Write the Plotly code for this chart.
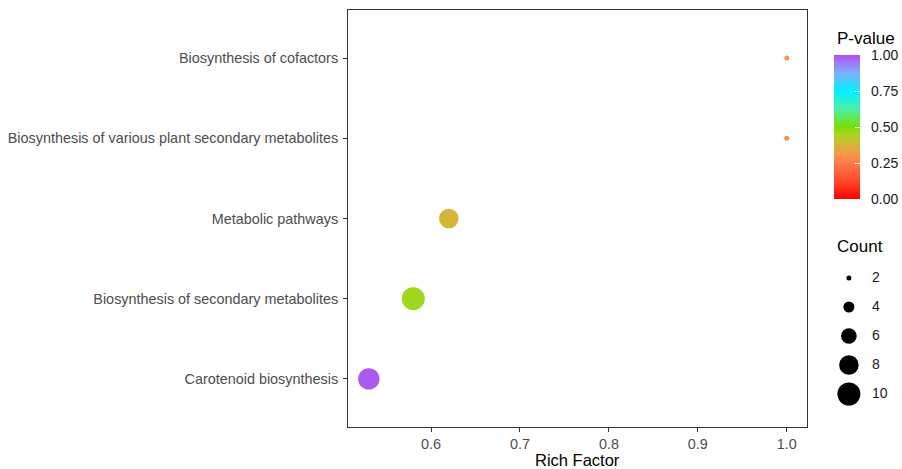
import numpy as np
import plotly.graph_objects as go

# ---- data ----
pathways = [
    "Carotenoid biosynthesis",
    "Biosynthesis of secondary metabolites",
    "Metabolic pathways",
    "Biosynthesis of various plant secondary metabolites",
    "Biosynthesis of cofactors",
]
rich_factor = [0.530, 0.580, 0.620, 1.0, 1.0]
counts = [9, 10, 8, 2, 2]
p_values = [0.99, 0.46, 0.38, 0.30, 0.30]

count_breaks = [2, 4, 6, 8, 10]
count_labels = ["2", "4", "6", "8", "10"]
p_ticks = [0, 0.25, 0.5, 0.75, 1.0]
p_ticklabels = ["0.00", "0.25", "0.50", "0.75", "1.00"]
x_ticks = [0.6, 0.7, 0.8, 0.9, 1.0]

W, H = 902, 469

colorscale = [
    [0.00, "#FF0000"],
    [0.125, "#FF4A2A"],
    [0.25, "#FF7A4C"],
    [0.31, "#F49845"],
    [0.38, "#D4B637"],
    [0.45, "#A9D524"],
    [0.50, "#78E000"],
    [0.625, "#48F0A8"],
    [0.75, "#00F0FF"],
    [0.875, "#80B0FF"],
    [1.00, "#AE52F2"],
]


def size_px(c, lo=2, hi=10):
    s = 1 + 5 * (np.sqrt(c) - np.sqrt(lo)) / (np.sqrt(hi) - np.sqrt(lo))
    return s * 3.6 + 1.4


def px_x(p):
    return p / W


def px_y(p):
    return 1 - p / H


FONT = "Liberation Sans, Arial, sans-serif"
PAD = "\u00a0\u00a0"

fig = go.Figure()

fig.add_trace(go.Scatter(
    x=rich_factor, y=pathways, mode="markers",
    marker=dict(
        size=[size_px(c) for c in counts],
        color=p_values, colorscale=colorscale, cmin=0, cmax=1,
        line=dict(width=0), opacity=1,
        colorbar=dict(
            xref="container", yref="container",
            x=834 / W, xanchor="left",
            y=1 - 199 / H, yanchor="bottom",
            lenmode="pixels", len=144,
            thickness=26, outlinewidth=0,
            xpad=0, ypad=0,
            tickvals=p_ticks, ticktext=[PAD + t for t in p_ticklabels],
            ticks="inside", tickcolor="white", ticklen=5, tickwidth=1,
            tickfont=dict(size=14, color="#1a1a1a", family=FONT),
        ),
    ),
    showlegend=False, hoverinfo="x+y",
))

# size legend
legend_idx = list(range(len(count_breaks)))
fig.add_trace(go.Scatter(
    x=[0.27] * len(count_breaks), y=legend_idx, mode="markers",
    marker=dict(size=[size_px(c) for c in count_breaks], color="#000000",
                opacity=1, line=dict(width=0)),
    xaxis="x2", yaxis="y2", showlegend=False, hoverinfo="skip",
))
fig.add_trace(go.Scatter(
    x=[0.6] * len(count_breaks), y=legend_idx, mode="text",
    text=count_labels, textposition="middle right",
    textfont=dict(size=14, color="#1a1a1a", family=FONT),
    xaxis="x2", yaxis="y2", showlegend=False, hoverinfo="skip",
))

axis_font = dict(family=FONT, size=14.4, color="#4D4D4D")

fig.update_layout(
    width=W, height=H,
    margin=dict(l=0, r=0, t=0, b=0, autoexpand=False),
    paper_bgcolor="white", plot_bgcolor="white",
    font=dict(family=FONT, color="black"),
    xaxis=dict(
        domain=[348 / W, 807 / W], range=[0.5066, 1.0228],
        tickvals=x_ticks, tickformat=".1f",
        showgrid=False, zeroline=False,
        showline=True, mirror=True, linecolor="#333333", linewidth=1,
        ticks="outside", ticklen=4, tickcolor="#333333",
        tickfont=axis_font,
    ),
    yaxis=dict(
        domain=[1 - 427 / H, 1 - 10 / H], range=[-0.6, 4.6],
        type="category", categoryorder="array", categoryarray=pathways,
        showgrid=False, zeroline=False,
        showline=True, mirror=True, linecolor="#333333", linewidth=1,
        ticks="outside", ticklen=4, tickcolor="#333333",
        tickfont=axis_font, ticklabelstandoff=2,
    ),
    xaxis2=dict(domain=[830 / W, 900 / W], range=[0, 1], visible=False, fixedrange=True),
    yaxis2=dict(domain=[px_y(408.5), px_y(263.5)], range=[4.5, -0.5], visible=False, fixedrange=True),
    annotations=[
        dict(text="Rich Factor", xref="paper", yref="paper", x=px_x(577.5), y=px_y(469.5),
             xanchor="center", yanchor="bottom", showarrow=False, borderpad=0,
             font=dict(size=16.5, color="black", family=FONT)),
        dict(text="P-value", xref="paper", yref="paper", x=px_x(835), y=px_y(38),
             xanchor="left", yanchor="middle", showarrow=False,
             font=dict(size=17, color="black", family=FONT)),
        dict(text="Count", xref="paper", yref="paper", x=px_x(835), y=px_y(246),
             xanchor="left", yanchor="middle", showarrow=False,
             font=dict(size=17, color="black", family=FONT)),
    ],
)

fig.write_html(
    "out.html",
    config={"displayModeBar": False},
    post_script="document.body.style.margin='0';document.body.style.overflow='hidden';",
)
